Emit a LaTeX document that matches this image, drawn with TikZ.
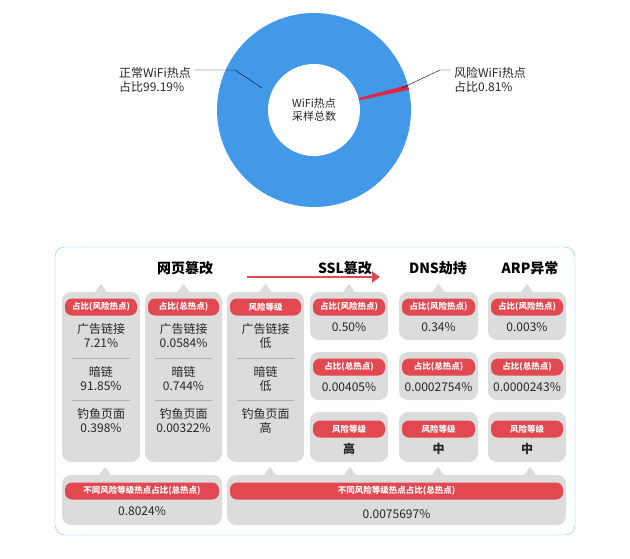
\documentclass[tikz,border=0pt]{standalone}
\usepackage{fontspec}
\setmainfont{Noto Sans CJK SC}
\usetikzlibrary{arrows.meta}
\definecolor{ringc}{RGB}{66,153,232}
\definecolor{riskc}{RGB}{224,40,70}
\definecolor{pillc}{RGB}{226,72,80}
\definecolor{panelc}{RGB}{220,220,220}
\definecolor{framec}{RGB}{120,200,235}
\tikzset{
  panel/.style={fill=panelc, rounded corners=9pt},
  pill/.style={fill=pillc, rounded corners=7pt, text=white, font=\bfseries\fontsize{8.5}{9}\selectfont, minimum height=17pt, inner sep=1pt},
  val/.style={font=\fontsize{12}{14}\selectfont, align=center, text=black!85},
  head/.style={font=\bfseries\fontsize{14}{16}\selectfont},
}
\begin{document}
\begin{tikzpicture}[x=1pt, y=-1pt]
		\useasboundingbox (0,0) rectangle (630,558);
		% donut
		\fill[ringc] (314,110) circle (97);
		\fill[riskc] (314,110) -- ++(-12:97) arc (-12:-15:97) -- cycle;
		\fill[white] (314,110) circle (46);
		\node[val, font=\fontsize{11}{13}\selectfont] (centre) at (314,110) {WiFi热点\\采样总数};
		\node[val, align=left] (normal) at (155,80) {正常WiFi热点\\占比99.19\%};
		\node[val, align=left] (risk) at (490,80) {风险WiFi热点\\占比0.81\%};
		\coordinate (pn) at (262,88);
		\coordinate (pr) at (402,88);
		\draw (normal.east |- 0,70) -- (235,70) -- (pn);
		\draw (pr) -- (440,70) -- (risk.west |- 0,70);
		
		% frame
		\draw[framec, rounded corners=10pt] (55,247) rectangle (575,535);
		\node[head] (h1) at (185,268) {网页篡改};
		\node[head] (h2) at (345,268) {SSL篡改};
		\node[head] (h3) at (438,268) {DNS劫持};
		\node[head] (h4) at (530,268) {ARP异常};
		\coordinate (a1) at (247,277);
		\coordinate (a2) at (380,277);
		\draw[pillc, line width=2.5pt, -{Triangle[length=8pt,width=11pt]}] (a1) -- (a2);
		
		% web tampering columns
		\foreach \xl/\xr/\pt/\a/\b/\c in {
			62/140/占比(风险热点)/7.21\%/91.85\%/0.398\%,
			145/222/占比(总热点)/0.0584\%/0.744\%/0.00322\%,
			227/304/风险等级/低/低/高}{
			\fill[panelc] ({(\xl+\xr)/2-6},292) -- ({(\xl+\xr)/2},284) -- ({(\xl+\xr)/2+6},292) -- cycle;
			\fill[panel] (\xl,292) rectangle (\xr,462);
			\node[pill, minimum width={\xr-\xl-6}] at ({(\xl+\xr)/2},307) {\pt};
			\node[val] at ({(\xl+\xr)/2},336) {广告链接\\\a};
			\node[val] at ({(\xl+\xr)/2},379) {暗链\\\b};
			\node[val] at ({(\xl+\xr)/2},421) {钓鱼页面\\\c};
			\draw[black!30] ({\xl+10},358) -- ({\xr-10},358);
			\draw[black!30] ({\xl+10},400) -- ({\xr-10},400);
		}
		
		% other attack columns
		\foreach \xl/\xr/\p/\q/\r in {
			310/388/0.50\%/0.00405\%/高,
			399/478/0.34\%/0.0002754\%/中,
			488/566/0.003\%/0.0000243\%/中}{
			\fill[panelc] ({(\xl+\xr)/2-6},292) -- ({(\xl+\xr)/2},284) -- ({(\xl+\xr)/2+6},292) -- cycle;
			\fill[panel] (\xl,292) rectangle (\xr,340);
			\fill[panel] (\xl,352) rectangle (\xr,400);
			\fill[panel] (\xl,412) rectangle (\xr,462);
			\node[pill, minimum width={\xr-\xl-6}] at ({(\xl+\xr)/2},307) {占比(风险热点)};
			\node[val] at ({(\xl+\xr)/2},327) {\p};
			\node[pill, minimum width={\xr-\xl-6}] at ({(\xl+\xr)/2},367) {占比(总热点)};
			\node[val] at ({(\xl+\xr)/2},387) {\q};
			\node[pill, minimum width={\xr-\xl-6}] at ({(\xl+\xr)/2},429) {风险等级};
			\node[val, font=\bfseries\fontsize{12}{14}\selectfont] at ({(\xl+\xr)/2},449) {\r};
		}
		
		% bottom summaries
		\foreach \x in {105,270,350,438,530}
			\fill[panelc] (\x-6,475) -- (\x,467) -- (\x+6,475) -- cycle;
		\fill[panel] (62,475) rectangle (222,525);
		\fill[panel] (227,475) rectangle (566,525);
		\node[pill, minimum width=154pt] (sum1) at (142,491) {不同风险等级热点占比(总热点)};
		\node[val] (v1) at (142,511) {0.8024\%};
		\node[pill, minimum width=333pt] (sum2) at (396.5,491) {不同风险等级热点占比(总热点)};
		\node[val] (v2) at (396.5,514) {0.0075697\%};
		\end{tikzpicture}
\end{document}
